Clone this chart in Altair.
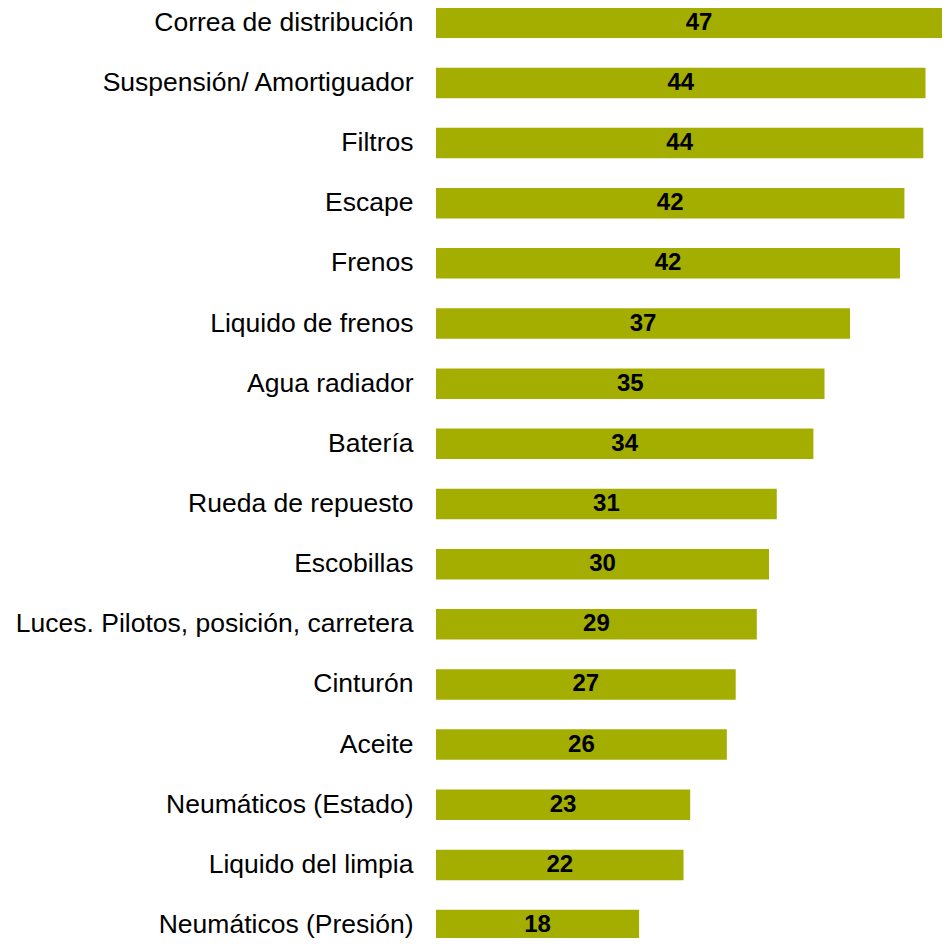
import altair as alt
import pandas as pd

categories = ["Correa de distribución", "Suspensión/ Amortiguador", "Filtros", "Escape",
              "Frenos", "Liquido de frenos", "Agua radiador", "Batería",
              "Rueda de repuesto", "Escobillas", "Luces. Pilotos, posición, carretera",
              "Cinturón", "Aceite", "Neumáticos (Estado)", "Liquido del limpia",
              "Neumáticos (Presión)"]
values = [47.4, 44.1, 43.9, 42.2, 41.8, 37.3, 35.0, 34.0, 30.7, 30.0, 28.9, 27.0, 26.2, 22.9, 22.3, 18.3]

df = pd.DataFrame({"cat": categories, "val": values})

xscale = alt.Scale(domain=[0, 45.586], nice=False, zero=True)

base = alt.Chart(df).encode(
    y=alt.Y("cat:N", sort=categories,
            axis=alt.Axis(title=None, domain=False, ticks=False, labelFontSize=26.5,
                          labelFont="Liberation Sans", labelColor="black",
                          labelPadding=23, labelLimit=0),
            scale=alt.Scale(paddingInner=0.4929, paddingOuter=0, range=[-0.5, 932.3]))
)

bars = base.mark_bar(color="#a3ae00").encode(
    x=alt.X("val:Q", axis=None, scale=xscale)
)

text = base.transform_calculate(half="datum.val / 2").mark_text(
    fontWeight="bold", fontSize=24, font="Liberation Sans", color="black"
).encode(
    x=alt.X("half:Q", axis=None, scale=xscale),
    text=alt.Text("val:Q", format=".0f")
)

chart = (bars + text).properties(
    width=506, height=930,
    autosize=alt.AutoSizeParams(type="none"),
    padding={"left": 428, "top": 0, "right": 0, "bottom": 0}
).configure_view(stroke=None)

chart.save("out.html", embed_options={"renderer": "svg", "actions": False})
